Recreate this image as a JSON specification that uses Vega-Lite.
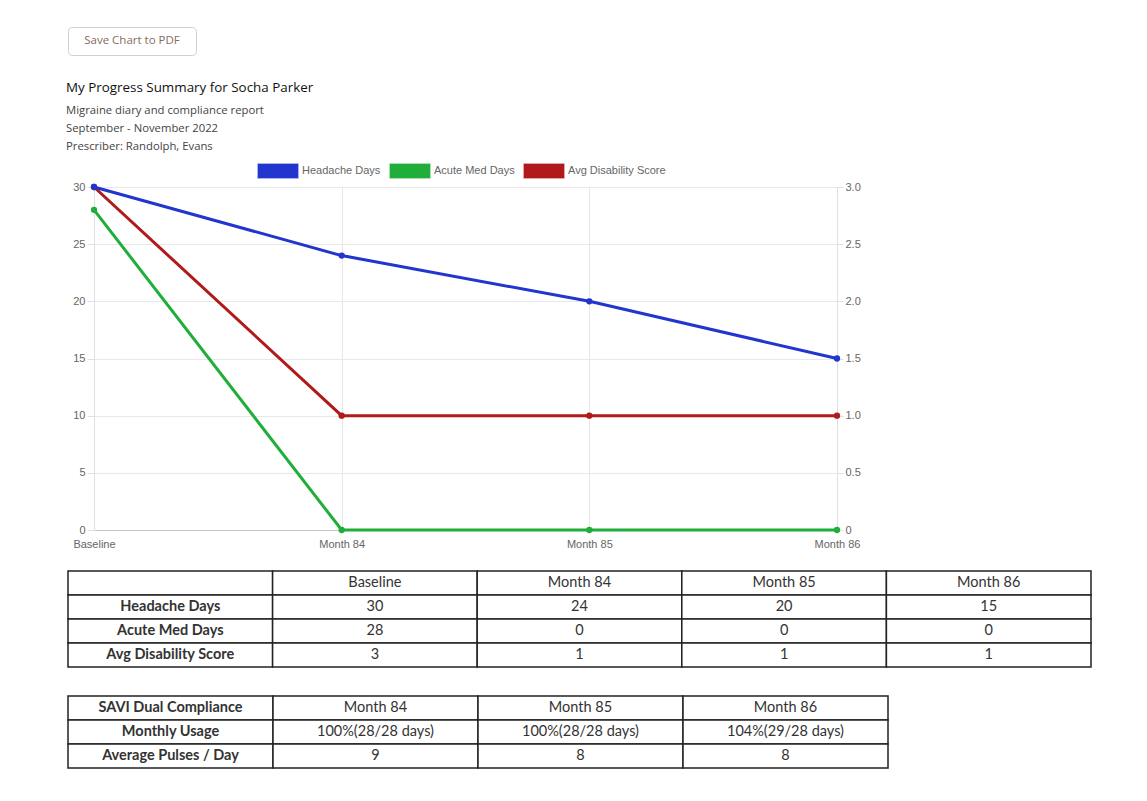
{
  "$schema": "https://vega.github.io/schema/vega-lite/v6.json",
  "background": "white",
  "padding": {"left": 66, "top": 26, "right": 10, "bottom": 10},
  "bounds": "flush",
  "spacing": 0,
  "resolve": {"legend": {"color": "independent"}, "scale": {"color": "independent"}},
  "config": {
    "view": {"stroke": null},
    "font": "Open Sans"
  },
  "datasets": {
    "series": [
      {"period": "Baseline", "series": "Headache Days", "value": 30},
      {"period": "Month 84", "series": "Headache Days", "value": 24},
      {"period": "Month 85", "series": "Headache Days", "value": 20},
      {"period": "Month 86", "series": "Headache Days", "value": 15},
      {"period": "Baseline", "series": "Acute Med Days", "value": 28},
      {"period": "Month 84", "series": "Acute Med Days", "value": 0},
      {"period": "Month 85", "series": "Acute Med Days", "value": 0},
      {"period": "Month 86", "series": "Acute Med Days", "value": 0},
      {"period": "Baseline", "series": "Avg Disability Score", "value": 3},
      {"period": "Month 84", "series": "Avg Disability Score", "value": 1},
      {"period": "Month 85", "series": "Avg Disability Score", "value": 1},
      {"period": "Month 86", "series": "Avg Disability Score", "value": 1}
    ],
    "table1": [
      {"row": "head", "col": "label", "text": ""},
      {"row": "head", "col": "Baseline", "text": "Baseline"},
      {"row": "head", "col": "Month 84", "text": "Month 84"},
      {"row": "head", "col": "Month 85", "text": "Month 85"},
      {"row": "head", "col": "Month 86", "text": "Month 86"},
      {"row": "Headache Days", "col": "label", "text": "Headache Days"},
      {"row": "Headache Days", "col": "Baseline", "text": "30"},
      {"row": "Headache Days", "col": "Month 84", "text": "24"},
      {"row": "Headache Days", "col": "Month 85", "text": "20"},
      {"row": "Headache Days", "col": "Month 86", "text": "15"},
      {"row": "Acute Med Days", "col": "label", "text": "Acute Med Days"},
      {"row": "Acute Med Days", "col": "Baseline", "text": "28"},
      {"row": "Acute Med Days", "col": "Month 84", "text": "0"},
      {"row": "Acute Med Days", "col": "Month 85", "text": "0"},
      {"row": "Acute Med Days", "col": "Month 86", "text": "0"},
      {"row": "Avg Disability Score", "col": "label", "text": "Avg Disability Score"},
      {"row": "Avg Disability Score", "col": "Baseline", "text": "3"},
      {"row": "Avg Disability Score", "col": "Month 84", "text": "1"},
      {"row": "Avg Disability Score", "col": "Month 85", "text": "1"},
      {"row": "Avg Disability Score", "col": "Month 86", "text": "1"}
    ],
    "table2": [
      {"row": "head", "col": "label", "text": "SAVI Dual Compliance"},
      {"row": "head", "col": "Month 84", "text": "Month 84"},
      {"row": "head", "col": "Month 85", "text": "Month 85"},
      {"row": "head", "col": "Month 86", "text": "Month 86"},
      {"row": "Monthly Usage", "col": "label", "text": "Monthly Usage"},
      {"row": "Monthly Usage", "col": "Month 84", "text": "100%(28/28 days)"},
      {"row": "Monthly Usage", "col": "Month 85", "text": "100%(28/28 days)"},
      {"row": "Monthly Usage", "col": "Month 86", "text": "104%(29/28 days)"},
      {"row": "Average Pulses / Day", "col": "label", "text": "Average Pulses / Day"},
      {"row": "Average Pulses / Day", "col": "Month 84", "text": "9"},
      {"row": "Average Pulses / Day", "col": "Month 85", "text": "8"},
      {"row": "Average Pulses / Day", "col": "Month 86", "text": "8"}
    ],
    "button": [{"text": "Save Chart to PDF"}],
    "empty": []
  },
  "vconcat": [
    {
      "width": 128,
      "height": 28,
      "view": {"stroke": "#d0d0d0", "strokeWidth": 1, "cornerRadius": 4, "fill": "white"},
      "data": {"name": "button"},
      "mark": {"type": "text", "font": "Open Sans", "fontSize": 11.5, "color": "#8a6a5c"},
      "encoding": {"text": {"field": "text", "type": "nominal"}}
    },
    {
      "width": 10,
      "height": 132,
      "data": {"name": "empty"},
      "mark": "point"
    },
    {
      "width": 769,
      "height": 343,
      "data": {"name": "series"},
      "title": {
        "text": "My Progress Summary for Socha Parker",
        "subtitle": ["Migraine diary and compliance report", "September - November 2022", "Prescriber: Randolph, Evans"],
        "anchor": "start",
        "frame": "group",
        "dx": -2,
        "offset": -2,
        "font": "Open Sans",
        "fontSize": 13.4,
        "fontWeight": "normal",
        "color": "#111",
        "subtitleFont": "Open Sans",
        "subtitleFontSize": 11.3,
        "subtitleColor": "#444",
        "subtitleLineHeight": 18,
        "subtitlePadding": 10
      },
      "encoding": {
        "x": {
          "field": "period",
          "type": "ordinal",
          "sort": ["Baseline", "Month 84", "Month 85", "Month 86"],
          "scale": {"type": "point", "padding": 0, "range": [26, 769]},
          "axis": {
            "title": null,
            "labelAngle": 0,
            "labelFont": "Liberation Sans",
            "labelFontSize": 11,
            "labelColor": "#666",
            "labelPadding": 8,
            "ticks": false,
            "grid": true,
            "gridColor": "#e8e8e8",
            "domainColor": "#c8c8c8"
          }
        },
        "color": {
          "field": "series",
          "type": "nominal",
          "scale": {
            "domain": ["Headache Days", "Acute Med Days", "Avg Disability Score"],
            "range": ["#2235cf", "#1fae3a", "#b01a1a"]
          },
          "legend": {
            "title": null,
            "orient": "none",
            "direction": "horizontal",
            "legendX": 189,
            "legendY": -37,
            "symbolType": "M-1,-0.35L1,-0.35L1,0.35L-1,0.35Z",
            "symbolSize": 1600,
            "labelFont": "Liberation Sans",
            "labelFontSize": 11,
            "labelColor": "#666",
            "labelOffset": 3,
            "columnPadding": 6,
            "encode": {
              "symbols": {
                "update": {
                  "fill": {"scale": "color", "field": "value"},
                  "fillOpacity": {"value": 1},
                  "stroke": {"scale": "color", "field": "value"},
                  "strokeOpacity": {"value": 0.5},
                  "strokeWidth": {"value": 1.5},
                  "opacity": {"value": 1}
                }
              }
            }
          }
        }
      },
      "layer": [
        {
          "transform": [{"filter": {"field": "series", "equal": "Avg Disability Score"}}],
          "encoding": {
            "y": {
              "field": "value",
              "type": "quantitative",
              "scale": {"domain": [0, 3], "nice": false},
              "axis": {
                "orient": "right",
                "title": null,
                "values": [0, 0.5, 1, 1.5, 2, 2.5, 3],
                "labelExpr": "datum.value == 0 ? '0' : format(datum.value, '.1f')",
                "labelFont": "Liberation Sans",
                "labelFontSize": 11,
                "labelColor": "#666",
                "tickSize": 6,
                "tickColor": "#e0e0e0",
                "labelPadding": 2,
                "grid": false,
                "domainColor": "#e0e0e0"
              }
            }
          },
          "layer": [
            {"mark": {"type": "line", "strokeWidth": 3}},
            {"mark": {"type": "point", "filled": true, "size": 40, "opacity": 1}}
          ]
        },
        {
          "transform": [{"filter": {"field": "series", "oneOf": ["Acute Med Days", "Headache Days"]}}],
          "encoding": {
            "y": {
              "field": "value",
              "type": "quantitative",
              "scale": {"domain": [0, 30], "nice": false},
              "axis": {
                "orient": "left",
                "offset": -26,
                "title": null,
                "values": [0, 5, 10, 15, 20, 25, 30],
                "labelFont": "Liberation Sans",
                "labelFontSize": 11,
                "labelColor": "#666",
                "tickSize": 7,
                "tickColor": "#e0e0e0",
                "labelPadding": 2,
                "grid": true,
                "gridColor": "#e8e8e8",
                "domainColor": "#e0e0e0"
              }
            }
          },
          "layer": [
            {"mark": {"type": "line", "strokeWidth": 3}},
            {"mark": {"type": "point", "filled": true, "size": 40, "opacity": 1}}
          ]
        }
      ],
      "resolve": {"scale": {"y": "independent"}, "axis": {"y": "independent"}}
    },
    {
      "width": 10,
      "height": 41,
      "data": {"name": "empty"},
      "mark": "point"
    },
    {
      "width": 1023,
      "height": 96,
      "data": {"name": "table1"},
      "encoding": {
        "x": {"field": "col", "type": "nominal", "sort": ["label", "Baseline", "Month 84", "Month 85", "Month 86"], "scale": {"paddingInner": 0, "paddingOuter": 0}, "axis": null},
        "y": {"field": "row", "type": "nominal", "sort": ["head", "Headache Days", "Acute Med Days", "Avg Disability Score"], "scale": {"paddingInner": 0, "paddingOuter": 0}, "axis": null}
      },
      "layer": [
        {"mark": {"type": "rect", "fill": "white", "stroke": "#222", "strokeWidth": 1.5}},
        {
          "transform": [{"filter": {"field": "col", "equal": "label"}}],
          "mark": {"type": "text", "font": "Lato", "fontSize": 14.5, "fontWeight": "bold", "color": "#333"},
          "encoding": {"text": {"field": "text", "type": "nominal"}}
        },
        {
          "transform": [{"filter": {"not": {"field": "col", "equal": "label"}}}],
          "mark": {"type": "text", "font": "Lato", "fontSize": 14.5, "color": "#333"},
          "encoding": {"text": {"field": "text", "type": "nominal"}}
        }
      ]
    },
    {
      "width": 10,
      "height": 29,
      "data": {"name": "empty"},
      "mark": "point"
    },
    {
      "width": 820,
      "height": 72,
      "data": {"name": "table2"},
      "encoding": {
        "x": {"field": "col", "type": "nominal", "sort": ["label", "Month 84", "Month 85", "Month 86"], "scale": {"paddingInner": 0, "paddingOuter": 0}, "axis": null},
        "y": {"field": "row", "type": "nominal", "sort": ["head", "Monthly Usage", "Average Pulses / Day"], "scale": {"paddingInner": 0, "paddingOuter": 0}, "axis": null}
      },
      "layer": [
        {"mark": {"type": "rect", "fill": "white", "stroke": "#222", "strokeWidth": 1.5}},
        {
          "transform": [{"filter": {"field": "col", "equal": "label"}}],
          "mark": {"type": "text", "font": "Lato", "fontSize": 14.5, "fontWeight": "bold", "color": "#333"},
          "encoding": {"text": {"field": "text", "type": "nominal"}}
        },
        {
          "transform": [{"filter": {"not": {"field": "col", "equal": "label"}}}],
          "mark": {"type": "text", "font": "Lato", "fontSize": 14.5, "color": "#333"},
          "encoding": {"text": {"field": "text", "type": "nominal"}}
        }
      ]
    }
  ]
}
